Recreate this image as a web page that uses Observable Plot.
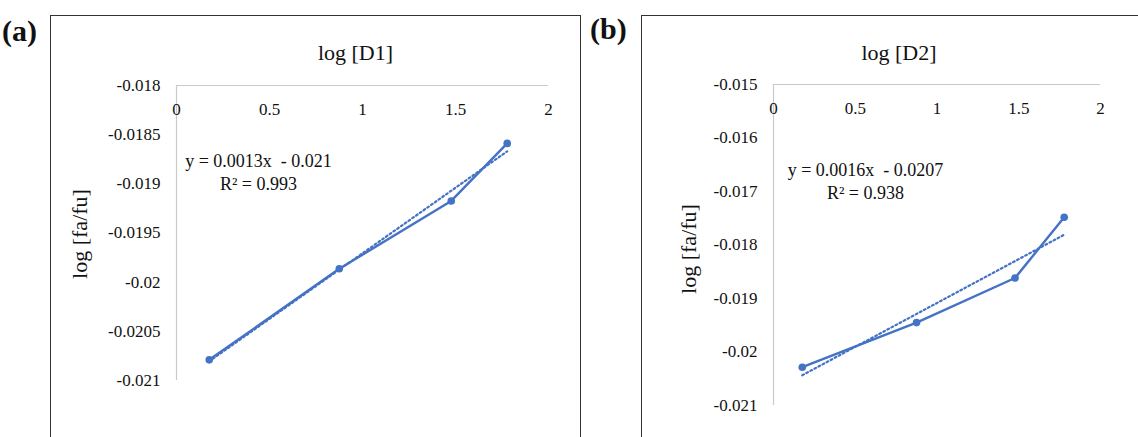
<!DOCTYPE html>
<html>
<head>
<meta charset="utf-8">
<script src="https://cdn.jsdelivr.net/npm/d3@7"></script>
<script src="https://cdn.jsdelivr.net/npm/@observablehq/plot@0.6"></script>
<style>
  html, body { margin: 0; padding: 0; background: #fff; }
  body { width: 1138px; height: 437px; overflow: hidden; position: relative; font-family: 'Liberation Serif', serif; }
  .frame { position: absolute; border: 1.5px solid #333; box-sizing: border-box; }
  .tag { position: absolute; font-weight: bold; font-size: 30px; color: #111; line-height: 1; font-family: 'Liberation Serif', serif; }
  .plot { position: absolute; }
  .plot svg, .plot svg text { font-family: 'Liberation Serif', serif !important; }
</style>
</head>
<body>
<div class="frame" style="left:50px; top:15px; width:531px; height:440px;"></div>
<div class="frame" style="left:641px; top:15px; width:510px; height:440px;"></div>
<div class="tag" style="left:2px; top:16px;">(a)</div>
<div class="tag" style="left:590px; top:14px;">(b)</div>
<div id="pa" class="plot" style="left:50px; top:15px;"></div>
<div id="pb" class="plot" style="left:641px; top:15px;"></div>
<script>
// data
const logConc = [0.176, 0.875, 1.477, 1.778];
const logFaFuD1 = [-0.02079, -0.019864, -0.019174, -0.018589];
const logFaFuD2 = [-0.020284, -0.01945, -0.018617, -0.017481];
const xTicks = [0, 0.5, 1, 1.5, 2];
const yTicksA = [-0.018, -0.0185, -0.019, -0.0195, -0.02, -0.0205, -0.021];
const yTicksB = [-0.015, -0.016, -0.017, -0.018, -0.019, -0.02, -0.021];
const eqA = ["y = 0.0013x  - 0.021", "R² = 0.993"];
const eqB = ["y = 0.0016x  - 0.0207", "R² = 0.938"];
const titleXA = "log [D1]";
const titleXB = "log [D2]";
const titleY = "log [fa/fu]";

const blue = "#4472C4";
const axisGray = "#c9c9c9";
const textCol = "#111";

function panel(opts) {
  const data = logConc.map((x, i) => ({x, y: opts.ys[i]}));
  const yDom = [opts.yTicks[opts.yTicks.length - 1], opts.yTicks[0]];
  return Plot.plot({
    width: opts.width,
    height: 422,
    marginLeft: opts.ml,
    marginRight: opts.mr,
    marginTop: opts.mt,
    marginBottom: opts.mb,
    style: {fontFamily: "'Liberation Serif', serif", fontSize: "17px", color: textCol, background: "transparent", overflow: "visible"},
    x: {domain: [xTicks[0], xTicks[xTicks.length - 1]], axis: null},
    y: {domain: yDom},
    marks: [
      Plot.ruleY([yDom[1]], {stroke: axisGray, strokeWidth: 1.2}),
      Plot.ruleX([xTicks[0]], {stroke: axisGray, strokeWidth: 1.2}),
      Plot.axisY(opts.yTicks, {tickSize: 0, tickPadding: 16, label: null, tickFormat: d => String(d), fontSize: 17, fill: textCol}),
      Plot.text(xTicks, {x: d => d, text: d => String(d), frameAnchor: "top", dy: 24, fontSize: 17, fill: textCol, lineAnchor: "middle"}),
      Plot.text([opts.titleX], {text: d => d, frameAnchor: "top", dx: opts.tdx, dy: opts.tdy, fontSize: 22, fill: textCol, textAnchor: "middle", lineAnchor: "middle"}),
      Plot.text([titleY], {text: d => d, frameAnchor: "left", rotate: -90, dx: opts.ydx, dy: opts.ydy, fontSize: 22, fill: textCol, textAnchor: "middle", lineAnchor: "middle"}),
      Plot.linearRegressionY(data, {x: "x", y: "y", ci: 0, stroke: blue, strokeWidth: 2.2, strokeDasharray: "1.8,2.8"}),
      Plot.line(data, {x: "x", y: "y", stroke: blue, strokeWidth: 2.4}),
      Plot.dot(data, {x: "x", y: "y", r: 3.8, fill: blue, stroke: "none"}),
      Plot.text([opts.eq[0]], {text: d => d, frameAnchor: "top-left", dx: opts.edx, dy: opts.edy, fontSize: 18, fill: textCol, textAnchor: "middle", lineAnchor: "middle"}),
      Plot.text([opts.eq[1]], {text: d => d, frameAnchor: "top-left", dx: opts.edx, dy: opts.edy + 22.5, fontSize: 18, fill: textCol, textAnchor: "middle", lineAnchor: "middle"})
    ]
  });
}

document.getElementById("pa").append(panel({
  ys: logFaFuD1, yTicks: yTicksA, titleX: titleXA, eq: eqA,
  width: 530, ml: 126, mr: 32, mt: 70, mb: 57,
  tdx: -7, tdy: -33, ydx: -97, ydy: 1, edx: 82, edy: 76
}));
document.getElementById("pb").append(panel({
  ys: logFaFuD2, yTicks: yTicksB, titleX: titleXB, eq: eqB,
  width: 497, ml: 132, mr: 38, mt: 69, mb: 32,
  tdx: -38, tdy: -32, ydx: -85, ydy: 4, edx: 92, edy: 86
}));
</script>
</body>
</html>
